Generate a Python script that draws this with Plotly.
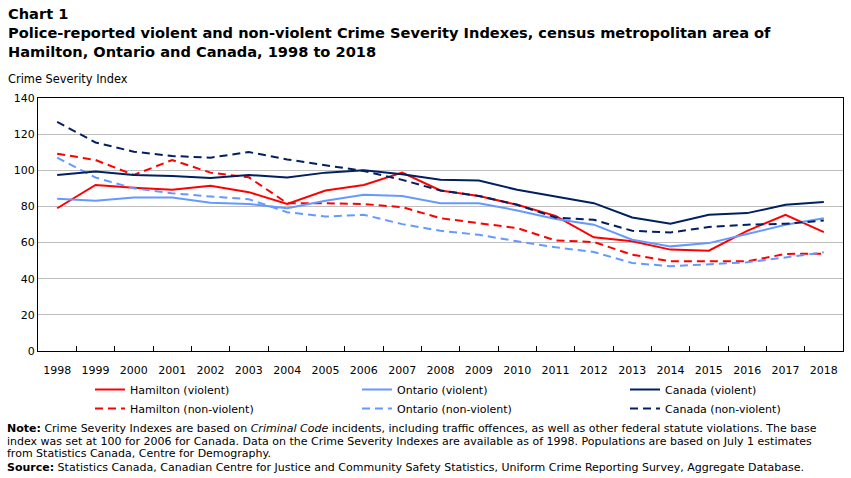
import plotly.graph_objects as go

years = [str(y) for y in range(1998, 2019)]

hamilton_violent = [79.0, 91.9, 90.4, 89.2, 91.4, 87.9, 81.4, 88.8, 91.9, 98.7, 88.8, 85.8, 80.9, 74.8, 62.9, 60.7, 56.1, 55.5, 66.5, 75.4, 65.8]
ontario_violent = [84.2, 83.1, 84.9, 84.9, 82.0, 81.4, 79.0, 83.1, 86.4, 85.8, 81.8, 81.8, 77.8, 73.0, 69.9, 61.6, 57.9, 59.7, 64.7, 69.9, 73.5]
canada_violent = [97.4, 99.3, 97.4, 96.9, 95.8, 97.4, 96.0, 98.7, 100.0, 97.8, 94.7, 94.3, 89.2, 85.5, 81.8, 73.9, 70.4, 75.4, 76.3, 80.9, 82.5]
hamilton_nonviolent = [109.2, 105.7, 97.4, 105.7, 98.7, 96.1, 81.8, 81.8, 81.3, 79.6, 73.5, 70.8, 68.0, 61.2, 60.3, 53.3, 49.6, 49.6, 49.6, 53.7, 53.9]
ontario_nonviolent = [107.0, 96.0, 90.0, 87.3, 85.5, 84.0, 76.8, 74.4, 75.4, 70.2, 66.5, 64.3, 60.7, 57.4, 54.8, 48.7, 46.9, 48.2, 49.1, 51.8, 54.6]
canada_nonviolent = [126.8, 115.4, 110.3, 107.9, 107.0, 110.1, 106.0, 102.9, 99.6, 94.7, 88.8, 85.8, 80.9, 73.9, 72.6, 66.5, 65.6, 68.6, 69.9, 70.4, 72.2]

title_lines = [
    "Chart 1",
    "Police-reported violent and non-violent Crime Severity Indexes, census metropolitan area of",
    "Hamilton, Ontario and Canada, 1998 to 2018",
]
y_title = "Crime Severity Index"
note_lines = [
    "<b>Note:</b> Crime Severity Indexes are based on <i>Criminal Code</i> incidents, including traffic offences, as well as other federal statute violations. The base",
    "index was set at 100 for 2006 for Canada. Data on the Crime Severity Indexes are available as of 1998. Populations are based on July 1 estimates",
    "from Statistics Canada, Centre for Demography.",
    "<b>Source:</b> Statistics Canada, Canadian Centre for Justice and Community Safety Statistics, Uniform Crime Reporting Survey, Aggregate Database.",
]

RED = "#FF0000"
LBLUE = "#6699FF"
NAVY = "#002060"
FONT = "DejaVu Sans"

series = [
    ("Hamilton (violent)", hamilton_violent, RED, "solid", "legend"),
    ("Hamilton (non-violent)", hamilton_nonviolent, RED, "8px,5px", "legend"),
    ("Ontario (violent)", ontario_violent, LBLUE, "solid", "legend2"),
    ("Ontario (non-violent)", ontario_nonviolent, LBLUE, "8px,5px", "legend2"),
    ("Canada (violent)", canada_violent, NAVY, "solid", "legend3"),
    ("Canada (non-violent)", canada_nonviolent, NAVY, "8px,5px", "legend3"),
]

fig = go.Figure()
for name, vals, col, dash, leg in series:
    fig.add_trace(go.Scatter(
        x=years, y=vals, name=name, mode="lines",
        line=dict(color=col, width=2, dash=dash),
        legend=leg,
    ))

L, R, T, B = 38, 8, 98, 127
W, H = 851, 478
pw = W - L - R
ph = H - T - B


def px_x(px):
    return (px - L) / pw


def px_y(py):
    return (H - B - py) / ph


leg_common = dict(
    orientation="v", xanchor="left", yanchor="top",
    font=dict(family=FONT, size=11, color="black"),
    bgcolor="rgba(0,0,0,0)", tracegroupgap=0, itemwidth=30,
)

fig.update_layout(
    width=W, height=H,
    margin=dict(l=L, r=R, t=T, b=B, autoexpand=False),
    paper_bgcolor="white", plot_bgcolor="white",
    font=dict(family=FONT, size=11, color="black"),
    legend=dict(x=px_x(90), y=px_y(375), **leg_common),
    legend2=dict(x=px_x(357), y=px_y(375), **leg_common),
    legend3=dict(x=px_x(625), y=px_y(375), **leg_common),
    xaxis=dict(
        type="category", range=[-0.5, len(years) - 0.5],
        showgrid=False, showline=True, linecolor="black",
        linewidth=1, mirror=True, ticks="inside", tickson="boundaries",
        ticklen=5, tickcolor="black", tickfont=dict(family=FONT, size=11),
        ticklabelstandoff=9, automargin=False,
    ),
    yaxis=dict(
        range=[0, 140], dtick=20, showgrid=True, gridcolor="#BFBFBF",
        gridwidth=1, showline=True, linecolor="black", linewidth=1,
        mirror=True, ticks="", tickfont=dict(family=FONT, size=11),
        zeroline=False, automargin=False,
    ),
)

fig.add_annotation(
    text="<br>".join("<b>" + t + "</b>" for t in title_lines),
    xref="paper", yref="paper", x=px_x(6), y=px_y(3),
    xanchor="left", yanchor="top", showarrow=False, align="left",
    font=dict(family=FONT, size=14.6, color="black"),
)

fig.add_annotation(
    text=y_title, xref="paper", yref="paper",
    x=px_x(6), y=px_y(70), xanchor="left", yanchor="top", showarrow=False,
    font=dict(family=FONT, size=11.4, color="black"),
)

for i, line in enumerate(note_lines):
    fig.add_annotation(
        text=line, xref="paper", yref="paper",
        x=px_x(5), y=px_y(428 + 13 * i), xanchor="left", yanchor="middle",
        showarrow=False, align="left",
        font=dict(family=FONT, size=11, color="black"),
    )

fig.write_html("out.html")
